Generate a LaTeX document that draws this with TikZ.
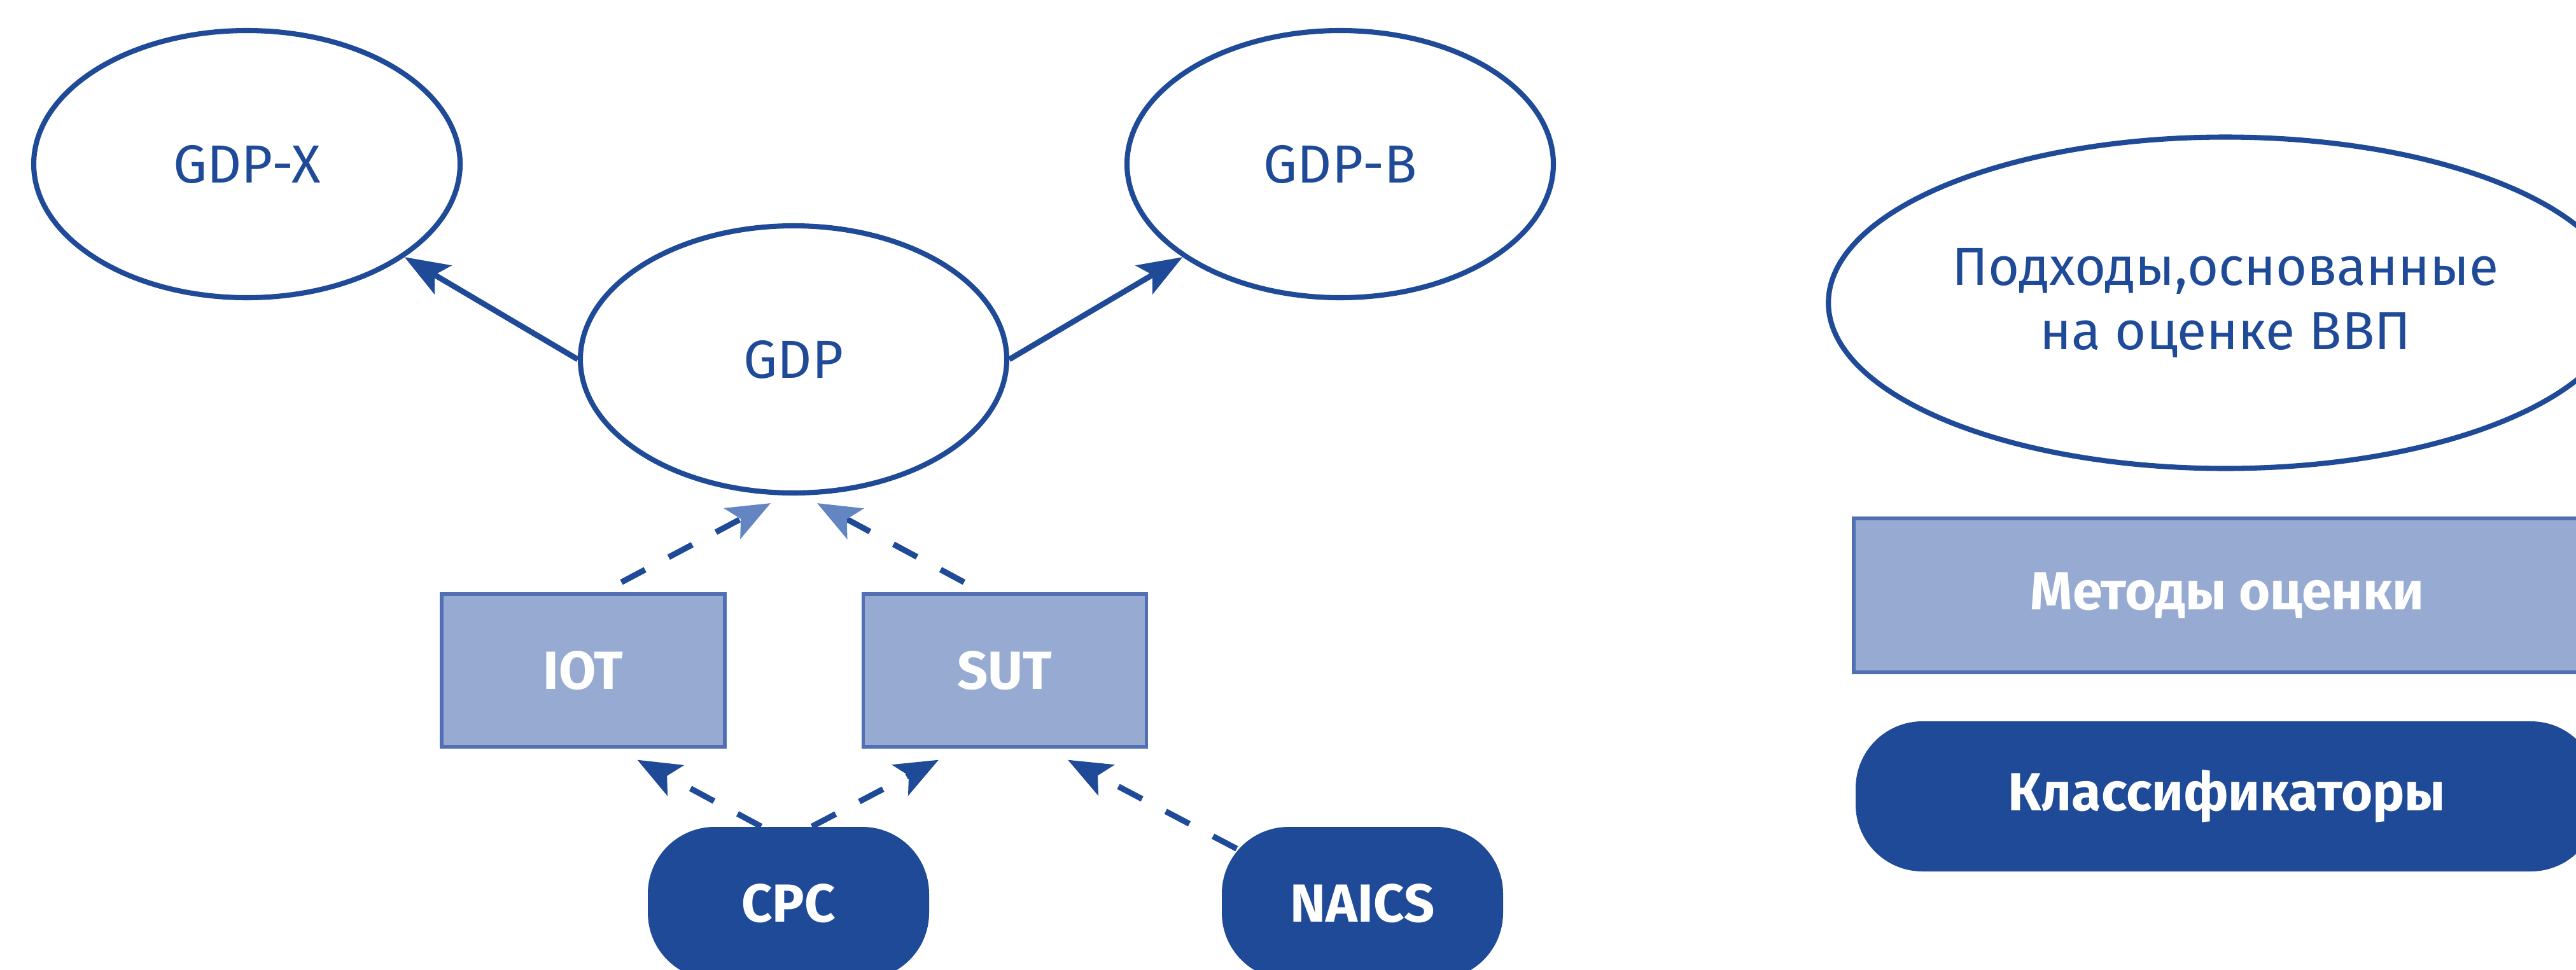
\documentclass[tikz,border=0pt]{standalone}
\usepackage{fontspec}
\setmainfont{Fira Sans}
\usepackage{xcolor}
\usepackage{tikz}
\usetikzlibrary{shapes,arrows,positioning,calc,arrows.meta}

\definecolor{navy}{HTML}{1F4A97}
\definecolor{paleblue}{HTML}{97ABD2}
\definecolor{edgeblue}{HTML}{5070B3}
\definecolor{tipblue}{HTML}{6385C2}

\begin{document}
\begin{tikzpicture}[
    approach/.style={ellipse, draw=navy, line width=2.3pt, fill=white, text=navy, minimum width=6.7cm, minimum height=4.2cm, font=\fontsize{24}{28.7}\selectfont},
    method/.style={rectangle, draw=edgeblue, line width=1.5pt, fill=paleblue, text=white, minimum width=4.45cm, minimum height=2.4cm, font=\fontsize{24}{28}\selectfont\bfseries},
    classif/.style={rectangle, rounded corners=1.05cm, fill=navy, text=white, minimum width=4.42cm, minimum height=2.4cm, font=\fontsize{24}{28}\selectfont\bfseries},
    solidarrow/.style={navy, line width=2.5pt, -{Stealth[length=0.7cm,width=0.52cm,inset=0.15cm]}},
    dasharrow/.style={navy, line width=2.6pt, dash pattern=on 0.42cm off 0.42cm, -{Stealth[length=0.68cm,width=0.54cm,inset=0.15cm]}},
    paletip/.style={-{Stealth[length=0.68cm,width=0.54cm,inset=0.15cm,color=tipblue]}}
]
    \useasboundingbox (0,0) rectangle (40.48,-15.24);

    % Approaches
    \node[approach] (gdpx) at (3.88,-2.58) {GDP-X};
    \node[approach] (gdpb) at (21.06,-2.58) {GDP-B};
    \node[approach] (gdp) at (12.47,-5.65) {GDP};

    % Methods
    \node[method] (iot) at (9.165,-10.54) {IOT};
    \node[method] (sut) at (15.79,-10.54) {SUT};

    % Classifiers
    \node[classif] (cpc) at (12.39,-14.20) {CPC};
    \node[classif] (naics) at (21.41,-14.20) {NAICS};

    % Links
    \draw[solidarrow] (gdp.west) -- (gdpx);
    \draw[solidarrow] (gdp.east) -- (gdpb);
    \draw[dasharrow, paletip] ([xshift=6mm,yshift=1.6mm]iot.north) -- ([xshift=-3.6mm,yshift=-1.2mm]gdp.south);
    \draw[dasharrow, paletip] ([xshift=-6.4mm,yshift=1.6mm]sut.north) -- ([xshift=3.7mm,yshift=-1.2mm]gdp.south);
    \draw[dasharrow] ([xshift=-4.3mm]cpc.north) -- ([xshift=8.5mm,yshift=-1.8mm]iot.south);
    \draw[dasharrow] ([xshift=3.7mm]cpc.north) -- ([xshift=-10.4mm,yshift=-1.8mm]sut.south);
    \draw[dasharrow] ([xshift=2.4mm,yshift=-3.5mm]naics.north west) -- ([xshift=9.9mm,yshift=-1.8mm]sut.south);

    % Legend
    \node[approach, minimum width=11.64cm, minimum height=5.21cm, align=center] (legapp) at (34.97,-4.76) {Подходы,основанные\\на оценке ВВП};
    \node[method, minimum width=11.74cm, minimum height=2.42cm] (legmeth) at (35.00,-9.36) {Методы оценки};
    \node[classif, minimum width=11.66cm, minimum height=2.36cm] (legcls) at (34.99,-12.52) {Классификаторы};
\end{tikzpicture}
\end{document}
